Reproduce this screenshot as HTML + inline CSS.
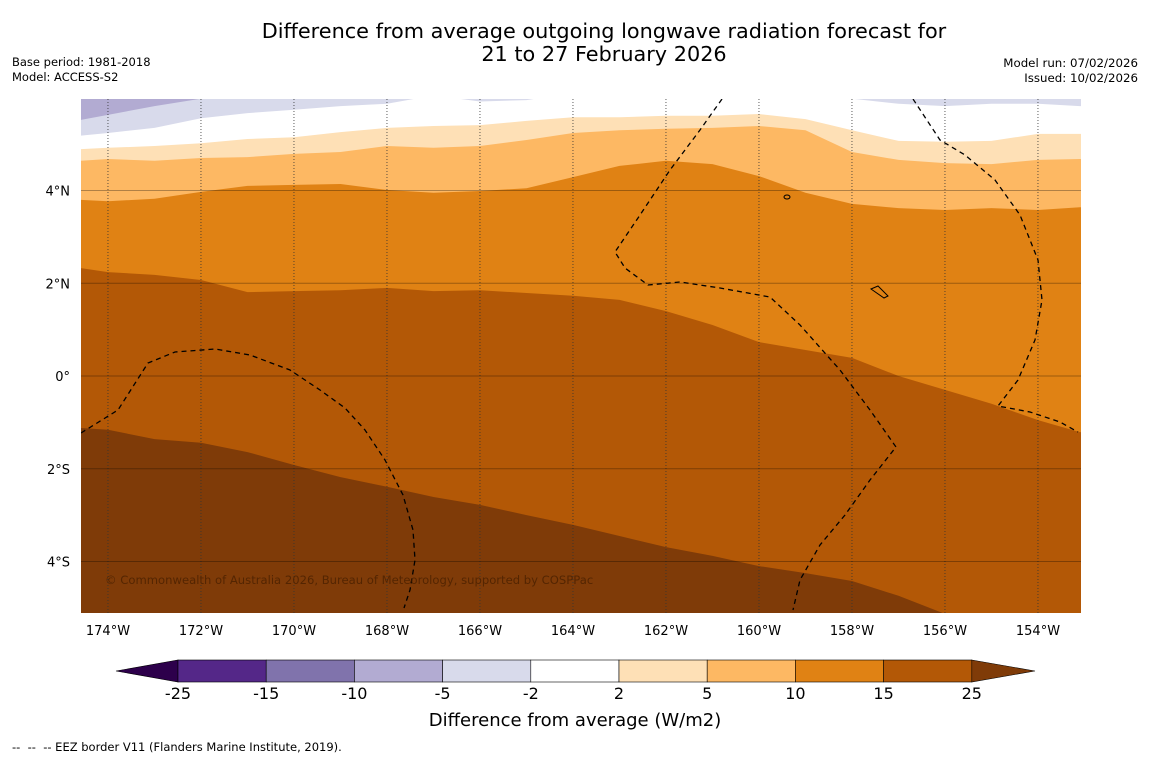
<!DOCTYPE html>
<html><head><meta charset="utf-8">
<style>
html,body{margin:0;padding:0;background:#fff;}
body{width:1150px;height:758px;overflow:hidden;font-family:"DejaVu Sans","Liberation Sans",sans-serif;}
svg text{font-family:"DejaVu Sans","Liberation Sans",sans-serif;}
</style></head>
<body>
<svg id="chart" width="1150" height="758" viewBox="0 0 1150 758" xmlns="http://www.w3.org/2000/svg">
  <text x="604" y="38" font-size="20.8" text-anchor="middle" fill="#000">Difference from average outgoing longwave radiation forecast for</text>
  <text x="604" y="61" font-size="20.8" text-anchor="middle" fill="#000">21 to 27 February 2026</text>
  <text x="12" y="66" font-size="11.5" fill="#000">Base period: 1981-2018</text>
  <text x="12" y="81" font-size="11.5" fill="#000">Model: ACCESS-S2</text>
  <text x="1138" y="67" font-size="11.8" text-anchor="end" fill="#000">Model run: 07/02/2026</text>
  <text x="1138" y="82" font-size="11.8" text-anchor="end" fill="#000">Issued: 10/02/2026</text>
  <defs><clipPath id="mapclip"><rect x="81" y="99" width="1000" height="514"/></clipPath></defs>
  <g id="map" clip-path="url(#mapclip)"></g>
  <g id="axes"></g>
  <g id="cbar"></g>
  <text x="575" y="726" font-size="18" text-anchor="middle" fill="#000">Difference from average (W/m2)</text>
  <text x="12" y="751" font-size="11.5" fill="#000" xml:space="preserve">--  --  -- EEZ border V11 (Flanders Marine Institute, 2019).</text>
</svg>
<script>
// ---- data ----
const lons = [-174.6,-174,-173,-172,-171,-170,-169,-168,-167,-166,-165,-164,-163,-162,-161,-160,-159,-158,-157,-156,-155,-154,-153.1];
const latB25 = [-1.12,-1.16,-1.36,-1.44,-1.64,-1.92,-2.18,-2.39,-2.61,-2.78,-3.0,-3.21,-3.45,-3.69,-3.88,-4.10,-4.25,-4.42,-4.74,-5.13,-5.48,-5.69,-5.91];
const latB15 = [2.33,2.24,2.18,2.07,1.81,1.83,1.85,1.90,1.83,1.85,1.79,1.73,1.64,1.40,1.10,0.73,0.56,0.39,0.0,-0.30,-0.60,-0.95,-1.21];
const latB10 = [3.80,3.77,3.82,3.97,4.10,4.12,4.14,4.01,3.95,3.99,4.05,4.29,4.53,4.64,4.57,4.31,3.95,3.71,3.62,3.58,3.62,3.58,3.64];
const latB5  = [4.64,4.68,4.64,4.70,4.72,4.79,4.83,4.96,4.92,4.96,5.09,5.24,5.30,5.33,5.35,5.39,5.30,4.83,4.66,4.59,4.57,4.66,4.68];
const latB2  = [4.89,4.92,4.96,5.02,5.11,5.15,5.26,5.35,5.39,5.41,5.50,5.58,5.58,5.61,5.61,5.65,5.54,5.30,5.07,5.05,5.07,5.22,5.22];
const latBm2 = [5.18,5.24,5.35,5.56,5.67,5.74,5.82,5.87,6.05,5.92,5.95,6.1,6.1,6.1,6.1,6.1,6.0,5.98,5.87,5.82,5.87,5.87,5.82];
const latBm5 = [5.52,5.63,5.82,5.98,6.2,6.2,6.2,6.2,6.2,6.2,6.2,6.2,6.2,6.2,6.2,6.2,6.2,6.2,6.2,6.2,6.2,6.2,6.2];
const lonTicks = [-174,-172,-170,-168,-166,-164,-162,-160,-158,-156,-154];
const latTicks = [4,2,0,-2,-4];
const cbLevels = ["-25","-15","-10","-5","-2","2","5","10","15","25"];
const cbColors = ["#542788","#8073ac","#b2abd2","#d8daeb","#ffffff","#fee0b6","#fdb863","#e08214","#b35806"];

// ---- scales ----
const NS="http://www.w3.org/2000/svg";
const xS = lon => 81 + (lon + 174.58) * 46.5;
const yS = lat => 376 - lat * 46.375;
function mk(tag, attrs, parent){const e=document.createElementNS(NS,tag);for(const k in attrs)e.setAttribute(k,attrs[k]);parent.appendChild(e);return e;}

const map=document.getElementById('map');
const bg=mk('rect',{x:81,y:99,width:1000,height:514,fill:'#7f3b08'},map);


const bands=[[latB25,'#b35806','band-15-25'],[latB15,'#e08214','band-10-15'],[latB10,'#fdb863','band-5-10'],[latB5,'#fee0b6','band-2-5'],[latB2,'#ffffff','band-neutral'],[latBm2,'#d8daeb','band-minus2-minus5'],[latBm5,'#b2abd2','band-minus5-minus10']];
bands.forEach(b=>{
  let d='M'+xS(lons[0])+','+yS(b[0][0]);
  for(let i=1;i<lons.length;i++) d+=' L'+xS(lons[i]).toFixed(1)+','+yS(b[0][i]).toFixed(1);
  d+=' L1090,'+yS(b[0][lons.length-1]).toFixed(1)+' L1090,80 L70,80 L70,'+yS(b[0][0]).toFixed(1)+' Z';
  const p=mk('path',{d:d,fill:b[1]},map);
  
  
});
lonTicks.forEach(l=>{
  const g=mk('line',{x1:xS(l),x2:xS(l),y1:99,y2:613,stroke:'#333','stroke-width':0.8,'stroke-dasharray':'1,2'},map);
  
  
});
latTicks.forEach(l=>{
  const g=mk('line',{x1:81,x2:1081,y1:yS(l),y2:yS(l),stroke:'#000','stroke-opacity':0.3,'stroke-width':1},map);
  
  
});
const eez=["M81,433 L118,410 L148,363 L175,352 L215,349 L250,355 L290,370 L320,390 L345,408 L365,430 L385,460 L403,495 L413,530 L415,560 L410,590 L404,608",
"M722,99 L700,130 L670,170 L640,215 L615,252 L625,268 L648,285 L680,282 L720,288 L770,297 L800,325 L840,370 L870,410 L896,447 L870,480 L845,515 L820,545 L800,580 L793,610",
"M913,99 L940,140 L965,155 L995,180 L1020,215 L1038,260 L1042,300 L1035,340 L1018,380 L998,406 L1030,412 L1060,422 L1078,432"];
eez.forEach(d=>{
  const p=mk('path',{d:d,fill:'none',stroke:'#000','stroke-width':1.3,'stroke-dasharray':'5,4'},map);
  
  
});
const isl=mk('ellipse',{cx:787,cy:197,rx:3,ry:2,fill:'none',stroke:'#000'},map);


const isl2=mk('path',{d:'M871,289 L878,286 L888,296 L884,298 Z',fill:'none',stroke:'#000'},map);


const cp=mk('text',{x:105,y:584,'font-size':11.6,fill:'#4a2000','fill-opacity':0.8},map);
cp.textContent='© Commonwealth of Australia 2026, Bureau of Meteorology, supported by COSPPac';



const axes=document.getElementById('axes');
lonTicks.forEach(l=>{
  const t=mk('text',{x:xS(l),y:635,'font-size':13,'text-anchor':'middle',fill:'#000'},axes);
  t.textContent=Math.abs(l)+'°W';
  
  
});
latTicks.forEach(l=>{
  const t=mk('text',{x:70,y:yS(l)+5,'font-size':13,'text-anchor':'end',fill:'#000'},axes);
  t.textContent=l===0?'0°':Math.abs(l)+'°'+(l>0?'N':'S');
  
  
});

const cb=document.getElementById('cbar');
const cbx0=178, cbw=88.2, cy0=660, ch=22;
const lt=mk('polygon',{points:`116,671 ${cbx0},${cy0} ${cbx0},${cy0+ch}`,fill:'#2d004b',stroke:'#000','stroke-width':0.6},cb);


cbColors.forEach((c,i)=>{
  const r=mk('rect',{x:cbx0+i*cbw,y:cy0,width:cbw,height:ch,fill:c,stroke:'#000','stroke-width':0.6},cb);
  
  
});
const rEnd=cbx0+cbColors.length*cbw;
const rt=mk('polygon',{points:`${rEnd},${cy0} 1035,671 ${rEnd},${cy0+ch}`,fill:'#7f3b08',stroke:'#000','stroke-width':0.6},cb);


cbLevels.forEach((v,i)=>{
  const t=mk('text',{x:cbx0+i*cbw,y:699,'font-size':16,'text-anchor':'middle',fill:'#000'},cb);
  t.textContent=v;
  
  
});
</script>
</body></html>
